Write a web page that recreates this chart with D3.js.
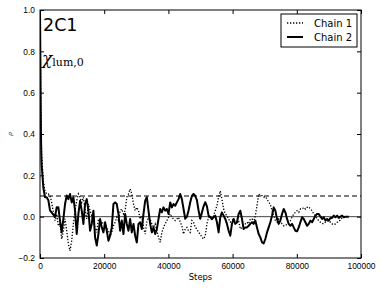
<!DOCTYPE html>
<head>
<meta charset="utf-8">
<style>
body { margin: 0; background: #fff; }
svg { font-family: "DejaVu Sans", sans-serif; }
</style>
<script src="https://d3js.org/d3.v7.min.js" charset="utf-8"></script>
</head>
<body>
<svg id="acSvg" width="382" height="288"></svg>
<script>

var width = 382;
var height = 288;
var margin = {top: 10, right: 21, bottom: 30, left: 40};

// sample spacing (steps) of the chain arrays below
var sampleStep = 520;

// first few steps, where both chains fall off from 1
var headSteps = [0, 100, 200, 300, 420];
var headChain1 = [1.0, 0.82, 0.62, 0.45, 0.34];
var headChain2 = [1.0, 0.80, 0.58, 0.40, 0.30];

// autocorrelation, one value every sampleStep steps
var chain1 = [
    1.0, 0.3, 0.17, 0.125, 0.11, 0.11, 0.102, 0.069, 0.021, -0.019,
    0.013, -0.044, -0.035, -0.108, -0.068, -0.011, -0.068, -0.132, -0.165, -0.116,
    -0.035, 0.029, 0.077, 0.11, 0.094, 0.069, 0.094, 0.029, -0.011, 0.061,
    0.029, 0.005, -0.035, -0.052, -0.076, -0.011, -0.019, -0.035, -0.027, -0.035,
    -0.052, -0.068, -0.092, -0.076, -0.044, -0.027, -0.003, -0.019, 0.029, 0.037,
    0.013, 0.029, 0.094, 0.11, 0.134, 0.11, 0.061, 0.029, 0.045, 0.029,
    -0.011, 0.005, -0.052, -0.084, -0.027, -0.003, -0.011, -0.035, -0.052, -0.035,
    -0.068, -0.1, -0.124, -0.076, -0.052, -0.035, -0.019, -0.003, 0.013, -0.003,
    -0.011, -0.019, -0.011, -0.003, -0.027, -0.044, -0.084, -0.06, -0.052, -0.068,
    -0.076, -0.019, -0.027, -0.052, -0.06, -0.076, -0.084, -0.1, -0.108, -0.092,
    -0.035, -0.003, 0.005, -0.019, 0.005, 0.029, 0.053, 0.094, 0.125, 0.085,
    0.037, 0.013, 0.005, -0.011, -0.027, -0.019, -0.011, -0.027, -0.035, -0.019,
    -0.06, -0.052, -0.044, -0.035, -0.027, -0.035, -0.011, -0.011, -0.027, 0.005,
    0.053, 0.11, 0.102, 0.102, 0.094, 0.097, 0.085, 0.069, 0.061, 0.029,
    0.005, -0.019, -0.027, -0.011, -0.023, -0.035, -0.044, -0.044, -0.035, -0.027,
    -0.019, -0.003, 0.013, 0.021, 0.029, 0.021, 0.037, 0.037, 0.045, 0.037,
    0.045, 0.048, 0.037, 0.029, 0.013, 0.005, -0.011, -0.019, -0.027, -0.032,
    -0.035, -0.027, -0.023, -0.019, -0.027, -0.035, -0.039, -0.035, -0.027, -0.023,
    -0.016, -0.006, -0.003, 0.0, 0.0
];

var chain2 = [
    1.0, 0.25, 0.14, 0.094, 0.094, 0.08, 0.03, 0.02, 0.01, 0.0,
    0.045, 0.045, -0.02, -0.076, -0.011, 0.061, 0.102, 0.085, 0.11, 0.069,
    0.094, 0.029, -0.084, 0.013, 0.077, 0.029, -0.035, 0.061, 0.085, 0.029,
    -0.068, -0.035, 0.029, -0.1, -0.14, -0.084, -0.011, -0.052, -0.076, -0.027,
    -0.068, -0.116, -0.092, -0.052, 0.061, 0.069, 0.061, 0.013, -0.068, -0.019,
    -0.084, 0.013, -0.035, -0.068, -0.011, -0.076, -0.035, -0.092, -0.125, -0.035,
    -0.027, -0.06, 0.013, 0.077, 0.094, 0.029, -0.035, -0.076, -0.052, -0.084,
    -0.06, -0.011, 0.037, 0.021, 0.045, 0.029, 0.037, 0.013, 0.069, 0.045,
    0.061, 0.053, 0.069, 0.085, 0.11, 0.085, 0.037, -0.01, 0.0, 0.03,
    0.07, 0.1, 0.11, 0.1, 0.08, 0.03, -0.01, 0.02, 0.05, 0.07,
    0.05, 0.005, -0.003, -0.011, -0.003, 0.005, -0.027, -0.076, -0.003, 0.021,
    0.005, -0.011, -0.035, -0.068, -0.092, -0.035, -0.011, -0.035, -0.027, 0.013,
    0.029, -0.011, -0.06, -0.052, -0.052, -0.044, -0.035, -0.027, -0.035, -0.019,
    -0.052, -0.084, -0.1, -0.124, -0.129, -0.108, -0.076, -0.052, -0.027, 0.005,
    0.045, 0.029, -0.011, -0.035, -0.019, 0.013, 0.037, 0.021, -0.011, -0.035,
    -0.044, -0.035, -0.052, -0.068, -0.071, -0.052, -0.027, -0.003, -0.011, -0.027,
    -0.044, -0.035, -0.019, -0.027, -0.011, 0.005, 0.013, 0.013, 0.0, -0.011,
    -0.003, -0.019, -0.011, -0.019, -0.006, -0.006, 0.005, -0.003, 0.005, -0.006,
    0.0, 0.005, -0.003, 0.0, 0.0, 0.0
];

var xTicks = [0, 20000, 40000, 60000, 80000, 100000];
var yTicks = [-0.2, 0.0, 0.2, 0.4, 0.6, 0.8, 1.0];
var threshold = 0.1;
var seriesNames = ["Chain 1", "Chain 2"];

// join the head values with the regular samples
var toPoints = function(headVals, vals) {
    var pts = headSteps.map(function(s, i) { return [s, headVals[i]]; });
    vals.forEach(function(v, i) {
        if (i > 0) pts.push([i * sampleStep, v]);
    });
    return pts;
};

var svg = d3.select("#acSvg");
var plotW = width - margin.left - margin.right;
var plotH = height - margin.top - margin.bottom;

var x = d3.scaleLinear().domain([0, 100000]).range([margin.left, margin.left + plotW]);
var y = d3.scaleLinear().domain([-0.2, 1.0]).range([margin.top + plotH, margin.top]);

svg.append("clipPath").attr("id", "plotClip")
    .append("rect")
    .attr("x", margin.left).attr("y", margin.top)
    .attr("width", plotW).attr("height", plotH);

var plot = svg.append("g").attr("clip-path", "url(#plotClip)");

// reference lines
plot.append("line")
    .attr("x1", x(0)).attr("x2", x(100000))
    .attr("y1", y(threshold)).attr("y2", y(threshold))
    .style("stroke", "#000").style("stroke-width", 1)
    .style("stroke-dasharray", "5,3");

plot.append("line")
    .attr("x1", x(0)).attr("x2", x(100000))
    .attr("y1", y(0)).attr("y2", y(0))
    .style("stroke", "#444").style("stroke-width", 1);

var line = d3.line()
    .x(function(d) { return x(d[0]); })
    .y(function(d) { return y(d[1]); });

plot.append("path")
    .datum(toPoints(headChain1, chain1))
    .attr("d", line)
    .style("fill", "none").style("stroke", "#000")
    .style("stroke-width", 1.3).style("stroke-dasharray", "1.3,1.7");

plot.append("path")
    .datum(toPoints(headChain2, chain2))
    .attr("d", line)
    .style("fill", "none").style("stroke", "#000")
    .style("stroke-width", 2).style("stroke-linejoin", "round");

// axes, ticks inward on every side
var fmtY = function(d) { return d3.format(".1f")(d).replace("-", "\u2212"); };
var axisStyle = function(g) {
    g.select(".domain").remove();
    g.selectAll(".tick line").style("stroke", "#000");
    g.selectAll("text").style("font-size", "8.4px").style("fill", "#000");
};

svg.append("g")
    .attr("transform", "translate(0," + y(-0.2) + ")")
    .call(d3.axisBottom(x).tickValues(xTicks).tickFormat(d3.format("d"))
        .tickSizeInner(-4).tickSizeOuter(0).tickPadding(5))
    .call(axisStyle);

svg.append("g")
    .attr("transform", "translate(0," + y(1.0) + ")")
    .call(d3.axisTop(x).tickValues(xTicks).tickFormat("")
        .tickSizeInner(-4).tickSizeOuter(0))
    .call(axisStyle);

svg.append("g")
    .attr("transform", "translate(" + x(0) + ",0)")
    .call(d3.axisLeft(y).tickValues(yTicks).tickFormat(fmtY)
        .tickSizeInner(-4).tickSizeOuter(0).tickPadding(5))
    .call(axisStyle);

svg.append("g")
    .attr("transform", "translate(" + x(100000) + ",0)")
    .call(d3.axisRight(y).tickValues(yTicks).tickFormat("")
        .tickSizeInner(-4).tickSizeOuter(0))
    .call(axisStyle);

svg.append("rect")
    .attr("x", margin.left).attr("y", margin.top)
    .attr("width", plotW).attr("height", plotH)
    .style("fill", "none").style("stroke", "#000").style("stroke-width", 1);

// labels
svg.append("text")
    .attr("x", x(50000)).attr("y", 280)
    .attr("text-anchor", "middle")
    .style("font-size", "8.4px")
    .text("Steps");

svg.append("text")
    .attr("transform", "translate(12," + y(0.4) + ") rotate(-90)")
    .attr("text-anchor", "middle")
    .style("font-family", "'DejaVu Serif', serif")
    .style("font-style", "italic")
    .style("font-size", "6px")
    .text("\u03c1");

svg.append("text")
    .attr("x", 43).attr("y", 31)
    .style("font-size", "17.5px")
    .text("2C1");

var chiLabel = svg.append("text")
    .attr("x", 42).attr("y", 64)
    .style("font-family", "'DejaVu Serif', serif");
chiLabel.append("tspan")
    .style("font-style", "italic").style("font-size", "17px")
    .text("\u03c7");
chiLabel.append("tspan")
    .attr("dy", 2)
    .style("font-size", "11px")
    .text("lum,0");

// legend
var legend = svg.append("g");
legend.append("rect")
    .attr("x", 281).attr("y", 14)
    .attr("width", 76).attr("height", 33)
    .style("fill", "#fff").style("stroke", "#000").style("stroke-width", 1);

var legendDash = ["1.3,1.7", null];
var legendWidth = [1.3, 2];
seriesNames.forEach(function(name, i) {
    var ly = 23 + i * 14;
    legend.append("line")
        .attr("x1", 287).attr("x2", 303)
        .attr("y1", ly).attr("y2", ly)
        .style("stroke", "#000").style("stroke-width", legendWidth[i])
        .style("stroke-dasharray", legendDash[i]);
    legend.append("text")
        .attr("x", 314).attr("y", ly + 3.5)
        .style("font-size", "10px")
        .text(name);
});

</script>
</body>
</html>
